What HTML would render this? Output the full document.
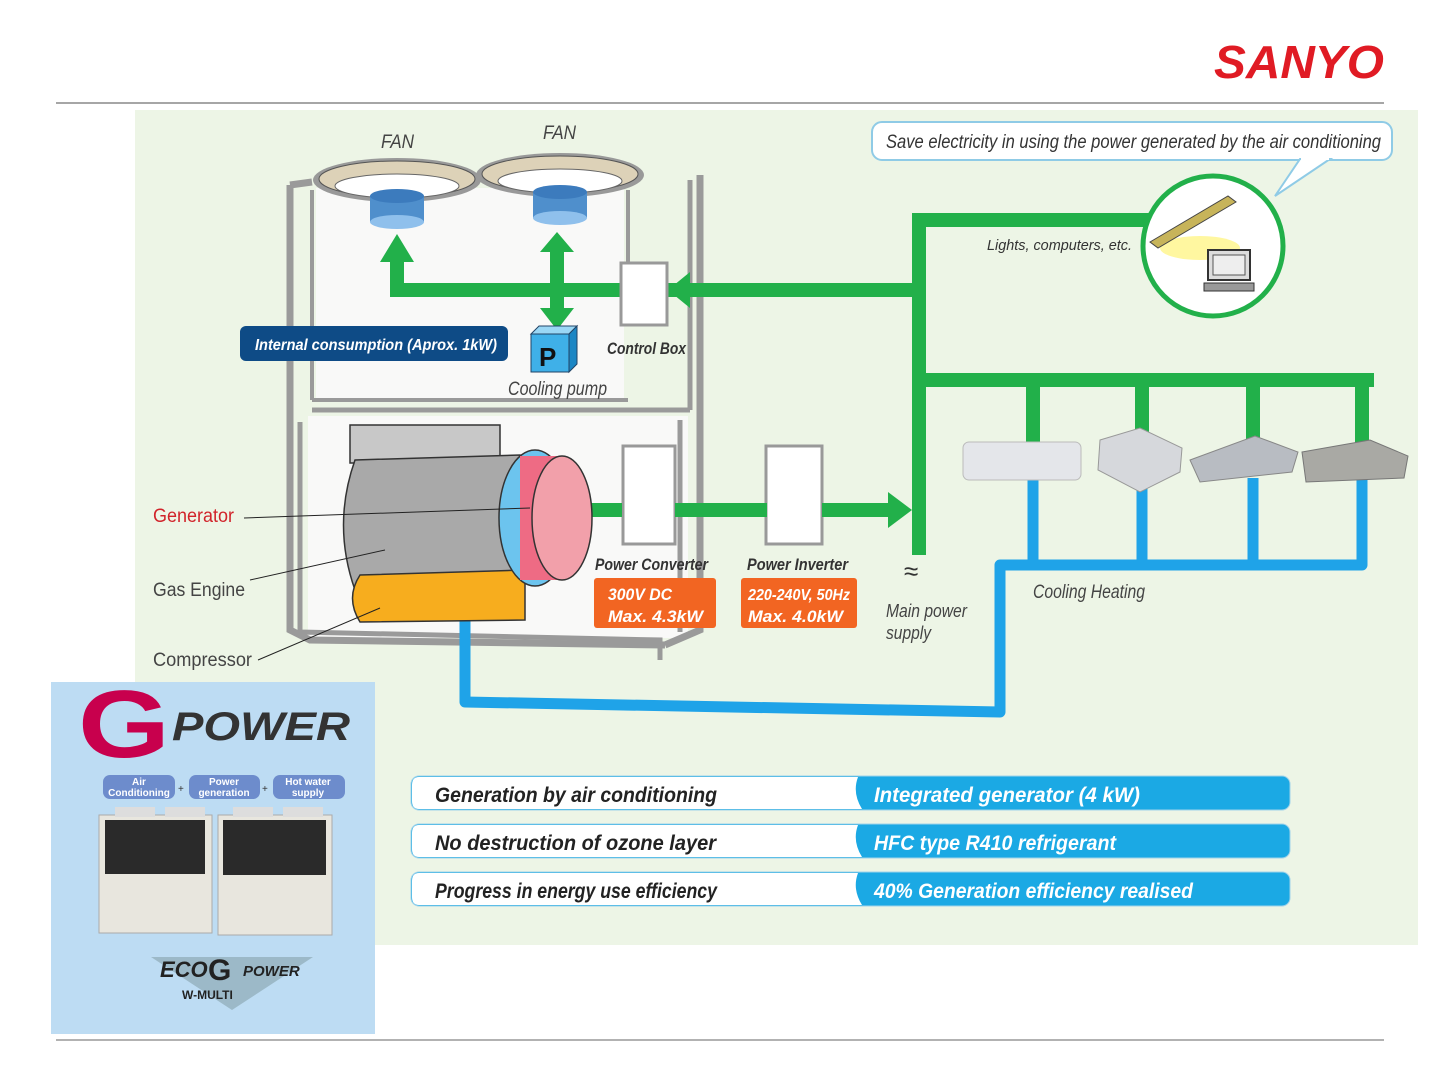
<!DOCTYPE html>
<html><head><meta charset="utf-8"><style>
html,body{margin:0;padding:0;background:#fff;width:1440px;height:1080px;overflow:hidden}
svg{display:block}
text{font-family:"Liberation Sans",sans-serif}
</style></head><body>
<svg width="1440" height="1080" viewBox="0 0 1440 1080" xmlns="http://www.w3.org/2000/svg">
<!-- header -->
<text x="1214" y="78" font-size="46" font-weight="bold" font-style="italic" fill="#e01b24" textLength="170" lengthAdjust="spacingAndGlyphs">SANYO</text>
<line x1="56" y1="103" x2="1384" y2="103" stroke="#888" stroke-width="1.5"/>
<line x1="56" y1="1040" x2="1384" y2="1040" stroke="#999" stroke-width="1.5"/>
<!-- panel -->
<rect x="135" y="110" width="1283" height="835" fill="#edf5e6"/>

<!-- unit frame -->
<rect x="316" y="188" width="308" height="210" fill="#fafafa" opacity="0.9"/>
<rect x="308" y="416" width="380" height="222" fill="#fafafa" opacity="0.9"/>
<path d="M312 400 L628 400 M312 190 L312 400 M628 190 L628 262" stroke="#9a9a9a" stroke-width="4" fill="none"/>
<path d="M300 422 L300 632 L660 640 L660 660 M680 420 L680 632 M312 410 L690 410 M690 180 L690 410" stroke="#9a9a9a" stroke-width="5" fill="none"/>
<path d="M290 185 L290 630 L310 640 L665 645 M700 175 L700 630 L665 645 M290 185 L312 182" stroke="#9a9a9a" stroke-width="7" fill="none"/>

<!-- fans -->
<g>
<ellipse cx="397" cy="180" rx="84" ry="22" fill="#999"/>
<ellipse cx="397" cy="179" rx="78" ry="18" fill="#ddd2b8" stroke="#555" stroke-width="1"/>
<ellipse cx="397" cy="186" rx="62" ry="12" fill="#fff" stroke="#666" stroke-width="1"/>
<ellipse cx="560" cy="175" rx="84" ry="22" fill="#999"/>
<ellipse cx="560" cy="174" rx="78" ry="18" fill="#ddd2b8" stroke="#555" stroke-width="1"/>
<ellipse cx="560" cy="181" rx="62" ry="12" fill="#fff" stroke="#666" stroke-width="1"/>
<rect x="370" y="196" width="54" height="26" fill="#4f8fcc"/>
<ellipse cx="397" cy="196" rx="27" ry="7" fill="#3c7bbd"/>
<ellipse cx="397" cy="222" rx="27" ry="7" fill="#8fc0ec"/>
<rect x="533" y="192" width="54" height="26" fill="#4f8fcc"/>
<ellipse cx="560" cy="192" rx="27" ry="7" fill="#3c7bbd"/>
<ellipse cx="560" cy="218" rx="27" ry="7" fill="#8fc0ec"/>
</g>
<text x="381" y="148" font-size="19" font-style="italic" fill="#444" textLength="33" lengthAdjust="spacingAndGlyphs">FAN</text>
<text x="543" y="139" font-size="19" font-style="italic" fill="#444" textLength="33" lengthAdjust="spacingAndGlyphs">FAN</text>

<!-- green lines -->
<g fill="#22b04a">
<rect x="392" y="283" width="528" height="14"/>
<rect x="390" y="248" width="14" height="49"/>
<polygon points="380,262 397,234 414,262"/>
<rect x="550" y="250" width="14" height="60"/>
<polygon points="540,252 557,232 574,252"/>
<polygon points="540,308 557,330 574,308"/>
<rect x="912" y="213" width="14" height="342"/>
<rect x="912" y="213" width="240" height="14"/>
<rect x="912" y="373" width="462" height="14"/>
<rect x="1026" y="373" width="14" height="75"/>
<rect x="1135" y="373" width="14" height="75"/>
<rect x="1246" y="373" width="14" height="75"/>
<rect x="1355" y="373" width="14" height="75"/>
<rect x="590" y="503" width="300" height="14"/>
<polygon points="888,492 912,510 888,528"/>
</g>
<polygon points="690,272 668,290 690,308" fill="#22b04a"/>
<text x="904" y="580" font-size="26" fill="#333">≈</text>

<!-- blue pipes -->
<g fill="none" stroke="#1fa3e8" stroke-width="11" stroke-linejoin="round">
<path d="M1033 478 L1033 565 M1142 478 L1142 565 M1253 478 L1253 565 M1362 478 L1362 565 L1000 565 L1000 712 L465 702 L465 620"/>
</g>

<!-- control box / converters -->
<g stroke="#999" stroke-width="3" fill="#fff">
<rect x="621" y="263" width="46" height="62"/>
<rect x="623" y="446" width="52" height="98"/>
<rect x="766" y="446" width="56" height="98"/>
</g>
<rect x="588" y="503" width="34" height="14" fill="#22b04a"/>
<rect x="675" y="503" width="92" height="14" fill="#22b04a"/>
<rect x="822" y="503" width="68" height="14" fill="#22b04a"/>

<!-- pump -->
<rect x="531" y="334" width="38" height="38" fill="#3fb0e8" stroke="#246" stroke-width="1"/>
<polygon points="531,334 539,326 577,326 569,334" fill="#9ad7f5" stroke="#246" stroke-width="1"/>
<polygon points="569,334 577,326 577,364 569,372" fill="#1b86c4" stroke="#246" stroke-width="1"/>
<text x="539" y="366" font-size="26" font-weight="bold" fill="#111">P</text>
<text x="508" y="395" font-size="19" font-style="italic" fill="#444" textLength="99" lengthAdjust="spacingAndGlyphs">Cooling pump</text>
<text x="607" y="354" font-size="17" font-weight="bold" font-style="italic" fill="#333" textLength="79" lengthAdjust="spacingAndGlyphs">Control Box</text>

<!-- internal consumption -->
<rect x="240" y="326" width="268" height="35" rx="6" fill="#0e4b86"/>
<text x="255" y="350" font-size="16" font-weight="bold" font-style="italic" fill="#fff" textLength="242" lengthAdjust="spacingAndGlyphs">Internal consumption (Aprox. 1kW)</text>

<!-- engine -->
<rect x="350" y="425" width="150" height="38" fill="#c8c8c8" stroke="#333" stroke-width="1.5"/>
<path d="M355 460 L520 455 L520 585 L355 590 Q332 525 355 460 Z" fill="#a9a9a9" stroke="#333" stroke-width="1.5"/>
<path d="M360 575 L525 570 L525 620 L360 622 Q345 598 360 575 Z" fill="#f7ad1e" stroke="#333" stroke-width="1.5"/>
<ellipse cx="535" cy="518" rx="36" ry="68" fill="#6cc4ee" stroke="#333" stroke-width="1.5"/>
<rect x="520" y="456" width="40" height="124" fill="#ee6b84"/>
<ellipse cx="562" cy="518" rx="30" ry="62" fill="#f2a0aa" stroke="#333" stroke-width="1.5"/>
<line x1="244" y1="518" x2="530" y2="508" stroke="#222" stroke-width="1"/>
<line x1="250" y1="580" x2="385" y2="550" stroke="#222" stroke-width="1"/>
<line x1="258" y1="660" x2="380" y2="608" stroke="#222" stroke-width="1"/>
<text x="153" y="522" font-size="19" fill="#d1232a" textLength="81" lengthAdjust="spacingAndGlyphs">Generator</text>
<text x="153" y="596" font-size="19" fill="#444" textLength="92" lengthAdjust="spacingAndGlyphs">Gas Engine</text>
<text x="153" y="666" font-size="19" fill="#444" textLength="99" lengthAdjust="spacingAndGlyphs">Compressor</text>

<text x="595" y="570" font-size="17" font-weight="bold" font-style="italic" fill="#333" textLength="113" lengthAdjust="spacingAndGlyphs">Power Converter</text>
<text x="747" y="570" font-size="17" font-weight="bold" font-style="italic" fill="#333" textLength="101" lengthAdjust="spacingAndGlyphs">Power Inverter</text>
<rect x="594" y="578" width="122" height="50" rx="3" fill="#f26522"/>
<rect x="741" y="578" width="116" height="50" rx="3" fill="#f26522"/>
<text x="608" y="600" font-size="17" font-weight="bold" font-style="italic" fill="#fff" textLength="64" lengthAdjust="spacingAndGlyphs">300V DC</text>
<text x="608" y="622" font-size="17" font-weight="bold" font-style="italic" fill="#fff" textLength="95" lengthAdjust="spacingAndGlyphs">Max. 4.3kW</text>
<text x="748" y="600" font-size="16" font-weight="bold" font-style="italic" fill="#fff" textLength="102" lengthAdjust="spacingAndGlyphs">220-240V, 50Hz</text>
<text x="748" y="622" font-size="17" font-weight="bold" font-style="italic" fill="#fff" textLength="95" lengthAdjust="spacingAndGlyphs">Max. 4.0kW</text>
<text x="886" y="617" font-size="18" font-style="italic" fill="#444" textLength="81" lengthAdjust="spacingAndGlyphs">Main power</text>
<text x="886" y="639" font-size="18" font-style="italic" fill="#444" textLength="45" lengthAdjust="spacingAndGlyphs">supply</text>
<text x="1033" y="598" font-size="19" font-style="italic" fill="#444" textLength="112" lengthAdjust="spacingAndGlyphs">Cooling Heating</text>

<!-- indoor units -->
<rect x="963" y="442" width="118" height="38" rx="6" fill="#e4e6ea" stroke="#bbb"/>
<polygon points="1100,440 1140,428 1182,448 1180,472 1140,492 1098,470" fill="#d6d8dc" stroke="#999"/>
<polygon points="1190,460 1255,436 1298,452 1292,472 1200,482" fill="#b8bcc2" stroke="#888"/>
<polygon points="1302,452 1370,440 1408,456 1404,478 1306,482" fill="#a9a9a4" stroke="#777"/>

<!-- speech bubble -->
<rect x="872" y="122" width="520" height="38" rx="10" fill="#fff" stroke="#8fcbe6" stroke-width="2"/>
<polygon points="1300,159 1330,159 1275,196" fill="#fff" stroke="#8fcbe6" stroke-width="2"/>
<rect x="1301" y="156" width="28" height="4" fill="#fff"/>
<text x="886" y="148" font-size="19" font-style="italic" fill="#333" textLength="495" lengthAdjust="spacingAndGlyphs">Save electricity in using the power generated by the air conditioning</text>
<text x="987" y="250" font-size="15" font-style="italic" fill="#333" textLength="145" lengthAdjust="spacingAndGlyphs">Lights, computers, etc.</text>
<circle cx="1213" cy="246" r="70" fill="#fff" stroke="#22b04a" stroke-width="5"/>
<ellipse cx="1200" cy="248" rx="40" ry="12" fill="#fff7a0"/>
<polygon points="1150,242 1228,196 1236,202 1158,248" fill="#c7b45a" stroke="#444"/>
<rect x="1208" y="250" width="42" height="30" fill="#ddd" stroke="#333" stroke-width="2"/>
<rect x="1213" y="255" width="32" height="20" fill="#eee" stroke="#555"/>
<rect x="1204" y="283" width="50" height="8" fill="#999" stroke="#333"/>

<!-- bottom table -->
<g font-size="21" font-weight="bold" font-style="italic">
<rect x="411" y="776" width="879" height="34" rx="8" fill="#1ba9e4" stroke="#9fd2ea"/>
<path d="M419 777 L858 777 Q852 793 862 809 L419 809 Q412 809 412 801 L412 785 Q412 777 419 777Z" fill="#fff"/>
<text x="435" y="802" fill="#222" textLength="282" lengthAdjust="spacingAndGlyphs">Generation by air conditioning</text>
<text x="874" y="802" fill="#fff" textLength="266" lengthAdjust="spacingAndGlyphs">Integrated generator (4 kW)</text>
<rect x="411" y="824" width="879" height="34" rx="8" fill="#1ba9e4" stroke="#9fd2ea"/>
<path d="M419 825 L858 825 Q852 841 862 857 L419 857 Q412 857 412 849 L412 833 Q412 825 419 825Z" fill="#fff"/>
<text x="435" y="850" fill="#222" textLength="281" lengthAdjust="spacingAndGlyphs">No destruction of ozone layer</text>
<text x="874" y="850" fill="#fff" textLength="242" lengthAdjust="spacingAndGlyphs">HFC type R410 refrigerant</text>
<rect x="411" y="872" width="879" height="34" rx="8" fill="#1ba9e4" stroke="#9fd2ea"/>
<path d="M419 873 L858 873 Q852 889 862 905 L419 905 Q412 905 412 897 L412 881 Q412 873 419 873Z" fill="#fff"/>
<text x="435" y="898" fill="#222" textLength="282" lengthAdjust="spacingAndGlyphs">Progress in energy use efficiency</text>
<text x="874" y="898" fill="#fff" textLength="319" lengthAdjust="spacingAndGlyphs">40% Generation efficiency realised</text>
</g>

<!-- G power box -->
<rect x="51" y="682" width="324" height="352" fill="#bddcf3"/>
<text x="78" y="757" font-size="96" font-weight="bold" fill="#c8004d" textLength="92" lengthAdjust="spacingAndGlyphs">G</text>
<text x="172" y="740" font-size="40" font-weight="bold" font-style="italic" fill="#333" textLength="178" lengthAdjust="spacingAndGlyphs">POWER</text>
<g font-size="10" font-weight="bold" fill="#fff" text-anchor="middle">
<rect x="103" y="775" width="72" height="24" rx="7" fill="#6d8ccc"/>
<text x="139" y="785">Air</text><text x="139" y="796">Conditioning</text>
<rect x="189" y="775" width="71" height="24" rx="7" fill="#6d8ccc"/>
<text x="224" y="785">Power</text><text x="224" y="796">generation</text>
<rect x="273" y="775" width="72" height="24" rx="7" fill="#6d8ccc"/>
<text x="308" y="785">Hot water</text><text x="308" y="796">supply</text>
</g>
<text x="178" y="792" font-size="10" fill="#333">+</text>
<text x="262" y="792" font-size="10" fill="#333">+</text>
<rect x="99" y="815" width="113" height="118" fill="#e8e6de" stroke="#aaa"/>
<rect x="218" y="815" width="114" height="120" fill="#e8e6de" stroke="#aaa"/>
<rect x="105" y="820" width="100" height="54" fill="#2a2a2a"/>
<rect x="223" y="820" width="103" height="55" fill="#2a2a2a"/>
<rect x="115" y="807" width="40" height="10" fill="#ddd"/><rect x="165" y="807" width="40" height="10" fill="#ddd"/>
<rect x="233" y="807" width="40" height="10" fill="#ddd"/><rect x="283" y="807" width="40" height="10" fill="#ddd"/>
<polygon points="151,957 313,957 232,1010" fill="#9cb9c8"/>
<text x="160" y="977" font-size="22" font-weight="bold" font-style="italic" fill="#222">ECO</text>
<text x="208" y="980" font-size="30" font-weight="bold" fill="#222">G</text>
<text x="243" y="976" font-size="15" font-weight="bold" font-style="italic" fill="#222">POWER</text>
<text x="182" y="999" font-size="12" font-weight="bold" fill="#222">W-MULTI</text>
</svg>
</body></html>
